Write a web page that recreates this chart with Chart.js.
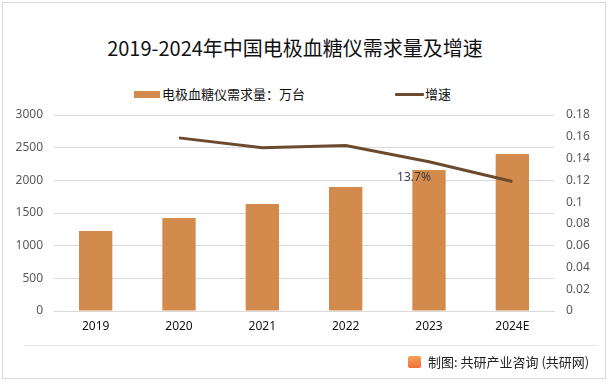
<!DOCTYPE html>
<html><head><meta charset="utf-8">
<script src="https://cdn.jsdelivr.net/npm/chart.js@4.4.0/dist/chart.umd.min.js"></script>
<style>
html,body{margin:0;padding:0;background:#fff;}
#wrap{position:relative;width:612px;height:387px;overflow:hidden;font-family:"Noto Sans CJK SC","Noto Sans",sans-serif;}
#frame{position:absolute;left:2px;top:2px;width:604px;height:377px;border:1px solid #d9d9d9;box-sizing:border-box;}
#title{position:absolute;left:0;width:590px;top:34px;text-align:center;font-size:20px;color:#111;line-height:28px;}
.lg{position:absolute;font-size:13px;color:#111;line-height:18px;top:85px;}
.sw{position:absolute;}
#sep{position:absolute;left:24px;top:345px;width:574px;height:1px;background:#e3e3e3;}
#foot{position:absolute;left:428px;top:353px;font-size:13px;color:#222;line-height:18px;}
#logo{position:absolute;left:408px;top:356px;width:13px;height:12px;background:linear-gradient(#f6a35a,#ef6f3a);border-radius:2px;}
canvas{position:absolute;left:0;top:0;}
</style></head>
<body><div id="wrap">
<div id="frame"></div>
<div id="title">2019-2024年中国电极血糖仪需求量及增速</div>
<div class="sw" style="left:134px;top:91px;width:26px;height:7px;background:#D38B4D"></div>
<div class="lg" style="left:162px">电极血糖仪需求量：万台</div>
<div class="sw" style="left:395px;top:93px;width:29px;height:3px;background:#6B4A2E;border-radius:1px"></div>
<div class="lg" style="left:425px">增速</div>
<canvas id="c" width="612" height="387"></canvas>
<div id="sep"></div>
<div id="logo"></div>
<div id="foot">制图: 共研产业咨询 (共研网)</div>
</div>
<script>
const categories = ["2019","2020","2021","2022","2023","2024E"];
const demand = [1224, 1423, 1638, 1898, 2158, 2403];
const growth = [null, 0.159, 0.150, 0.152, 0.137, 0.119];
const leftTicks = [0,500,1000,1500,2000,2500,3000];
const rightTicks = [0,0.02,0.04,0.06,0.08,0.1,0.12,0.14,0.16,0.18];
const labelText = "13.7%";

const labelPlugin = {
  id:'lbl',
  afterDatasetsDraw(chart){
    const ctx = chart.ctx;
    const x = chart.scales.x.getPixelForValue(4);
    const y = chart.scales.y1.getPixelForValue(growth[4]);
    ctx.save();
    ctx.font = '12px "Noto Sans","DejaVu Sans",sans-serif';
    ctx.fillStyle = '#404040';
    ctx.textAlign = 'center';
    ctx.textBaseline = 'middle';
    ctx.fillText(labelText, x - 15, y + 16);
    ctx.restore();
  }
};

new Chart(document.getElementById('c'), {
  data:{
    labels: categories,
    datasets:[
      {type:'line', data: growth, yAxisID:'y1', borderColor:'#6B4A2E', borderWidth:3, pointRadius:0, tension:0, order:0, spanGaps:false},
      {type:'bar', data: demand, yAxisID:'y', backgroundColor:'#D38B4D', barPercentage:0.4, categoryPercentage:1, order:1}
    ]
  },
  options:{
    responsive:false, animation:false,
    layout:{padding:{top:115,left:0,right:0,bottom:0}},
    plugins:{legend:{display:false}, tooltip:{enabled:false}},
    scales:{
      x:{
        grid:{display:false, drawTicks:false},
        border:{display:true, color:'#d9d9d9', width:1},
        ticks:{color:'#111', font:{size:12, family:'"Noto Sans","DejaVu Sans",sans-serif'}, padding:8, maxRotation:0},
        afterFit(s){ s.height = 76; }
      },
      y:{
        position:'left', min:0, max:3000,
        afterBuildTicks(s){ s.ticks = leftTicks.map(v=>({value:v})); },
        grid:{color:'#d9d9d9', drawTicks:false},
        border:{display:false},
        ticks:{color:'#595959', font:{size:12, family:'"Noto Sans","DejaVu Sans",sans-serif'}, padding:11,
          callback:(v)=>String(v)},
        afterFit(s){ s.width = 54; }
      },
      y1:{
        position:'right', min:0, max:0.18,
        afterBuildTicks(s){ s.ticks = rightTicks.map(v=>({value:v})); },
        grid:{display:false, drawTicks:false},
        border:{display:false},
        ticks:{color:'#595959', font:{size:12, family:'"Noto Sans","DejaVu Sans",sans-serif'}, padding:12,
          callback:(v)=>String(+Number(v).toFixed(2))},
        afterFit(s){ s.width = 58; }
      }
    }
  },
  plugins:[labelPlugin]
});
</script>
</body></html>
